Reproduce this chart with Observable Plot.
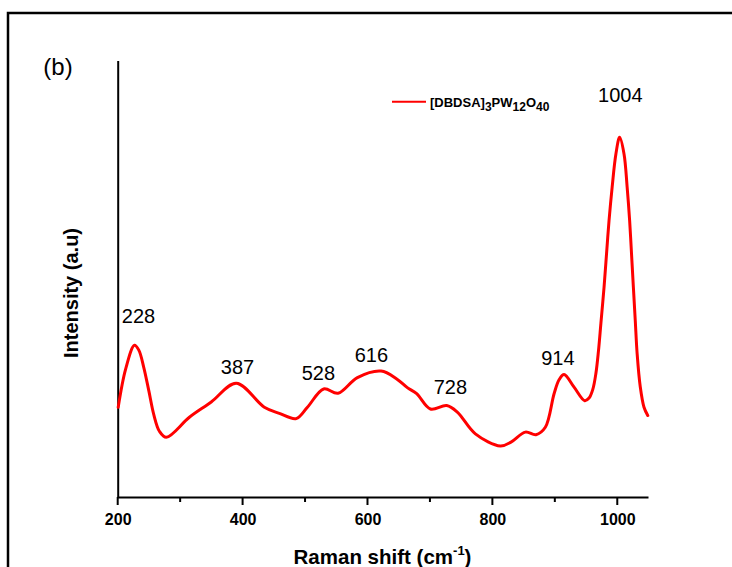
<!DOCTYPE html>
<html>
<head>
<meta charset="utf-8">
<script src="https://cdn.jsdelivr.net/npm/d3@7"></script>
<script src="https://cdn.jsdelivr.net/npm/@observablehq/plot@0.6"></script>
<style>
  html, body { margin: 0; padding: 0; background: #fff; }
  #chart { width: 732px; height: 567px; }
</style>
</head>
<body>
<div id="chart"></div>
<script>
// Raman shift (cm^-1) and intensity (a.u., 0–100 on the drawn axis)
const shift = [200, 212, 226, 233, 241, 249, 257, 266, 277, 314, 349, 389, 434, 458, 485, 503, 529, 552, 583, 621, 646, 663, 678, 700, 726, 743, 772, 812, 829, 852, 869, 884, 898, 906, 914, 930, 947, 954, 960, 965, 969, 973, 978, 982, 986, 991, 997, 1003, 1010, 1015, 1019, 1022, 1025, 1028, 1031, 1036, 1042, 1048];
const intensity = [20.7, 29.5, 34.9, 33.8, 29.8, 24.5, 19.0, 15.2, 13.8, 18.4, 21.9, 26.2, 20.7, 19.3, 18.1, 20.7, 24.9, 23.9, 27.5, 29.0, 27.2, 25.2, 23.8, 20.3, 21.1, 19.6, 14.6, 11.8, 12.7, 15.0, 14.4, 16.1, 23.8, 27.0, 28.2, 25.3, 22.2, 22.8, 24.8, 28.5, 33.5, 40.0, 48.2, 55.9, 63.5, 71.2, 78.8, 82.6, 78.8, 71.2, 63.5, 55.9, 48.2, 40.6, 33.0, 25.4, 20.7, 18.8];

// Peak annotations
const peakLabels = ["228", "387", "528", "616", "728", "914", "1004"];
const peakLabelX = [232.5, 391, 520.5, 605.5, 732, 904, 1004];
const peakLabelY = [41.5, 29.8, 28.4, 32.6, 25.2, 31.9, 92.1];

// Axis ticks
const majorTicks = [200, 400, 600, 800, 1000];
const minorTicks = [300, 500, 700, 900];

const seriesName = "[DBDSA]3PW12O40";

const spectrum = shift.map((s, i) => ({shift: s, intensity: intensity[i]}));
const peaks = peakLabels.map((t, i) => ({text: t, x: peakLabelX[i], y: peakLabelY[i]}));

const font = "Arial, 'Liberation Sans', Helvetica, sans-serif";

const plot = Plot.plot({
  width: 732,
  height: 567,
  marginLeft: 117.7,
  marginRight: 83.5,
  marginTop: 61,
  marginBottom: 70,
  style: {fontFamily: font, background: "#fff", color: "#000", overflow: "visible"},
  x: {domain: [200, 1050], axis: null},
  y: {domain: [0, 100], axis: null},
  marks: [
    // tick labels
    Plot.text(majorTicks, {x: d => d, text: d => String(d), frameAnchor: "bottom", lineAnchor: "top", dy: 16,
      fontSize: 16, fontWeight: "bold", fill: "#000"}),
    Plot.ruleY([0], {strokeWidth: 2, stroke: "#000"}),
    Plot.ruleX([200], {strokeWidth: 2, stroke: "#000"}),
    Plot.line(spectrum, {x: "shift", y: "intensity", stroke: "#ff0000", strokeWidth: 3, curve: "catmull-rom"}),
    Plot.text(peaks, {x: "x", y: "y", text: "text", fontSize: 20, fill: "#000"})
  ]
});

document.getElementById("chart").appendChild(plot);

const svg = d3.select(plot);
const xs = plot.scale("x");
const ys = plot.scale("y");
const y0 = ys.apply(0);

// tick marks through Plot's x scale
const tickG = svg.append("g").attr("stroke", "#000").attr("stroke-width", 2);
majorTicks.forEach(t => {
  const px = xs.apply(t);
  tickG.append("line").attr("x1", px).attr("x2", px).attr("y1", y0).attr("y2", y0 + 8);
});
minorTicks.forEach(t => {
  const px = xs.apply(t);
  tickG.append("line").attr("x1", px).attr("x2", px).attr("y1", y0).attr("y2", y0 + 5);
});

// outer frame (top and left edges visible)
svg.append("path")
  .attr("d", "M8,567V13H732")
  .attr("fill", "none")
  .attr("stroke", "#000")
  .attr("stroke-width", 2.5);

// panel label
svg.append("text")
  .attr("x", 58).attr("y", 75)
  .attr("text-anchor", "middle")
  .style("font-family", font).style("font-size", "24px")
  .text("(b)");

// y-axis title
svg.append("text")
  .attr("transform", "translate(78,293) rotate(-90)")
  .attr("text-anchor", "middle")
  .style("font-family", font).style("font-size", "20px").style("font-weight", "bold")
  .text("Intensity (a.u)");

// x-axis title with superscript
const xt = svg.append("text")
  .attr("x", 382.5).attr("y", 564)
  .attr("text-anchor", "middle")
  .style("font-family", font).style("font-size", "20.5px").style("font-weight", "bold");
xt.append("tspan").text("Raman shift (cm");
xt.append("tspan").attr("dy", -9).style("font-size", "13px").text("-1");
xt.append("tspan").attr("dy", 9).text(")");

// legend
svg.append("line")
  .attr("x1", 392).attr("x2", 426).attr("y1", 101.7).attr("y2", 101.7)
  .attr("stroke", "#ff0000").attr("stroke-width", 2);
const lt = svg.append("text")
  .attr("x", 430).attr("y", 106.7)
  .attr("text-anchor", "start")
  .style("font-family", font).style("font-size", "13px").style("font-weight", "bold");
const parts = seriesName.match(/(\[[^\]]+\])(\d+)([A-Z]+)(\d+)([A-Z]+)(\d+)/).slice(1);
parts.forEach((p, i) => {
  const sub = i % 2 === 1;
  const ts = lt.append("tspan").text(p);
  if (sub) ts.attr("dy", 4).style("font-size", "12px");
  else if (i > 0) ts.attr("dy", -4);
});
</script>
</body>
</html>
